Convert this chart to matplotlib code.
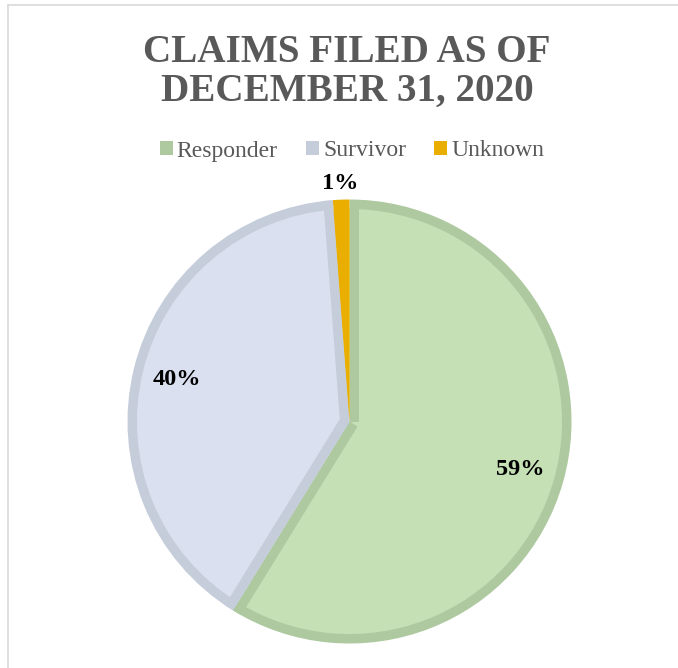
import matplotlib
matplotlib.use("Agg")
import matplotlib.pyplot as plt
from matplotlib.patches import Patch, Wedge, Polygon
from matplotlib.lines import Line2D
import numpy as np

categories = ["Responder", "Survivor", "Unknown"]
values = [58.8, 40.0, 1.2]
labels = ["59%", "40%", "1%"]
fills = ["#C5E0B4", "#DAE0EF", "#E9AE00"]
edges = ["#AEC9A0", "#C5CCDA", "#E9AE00"]

W, H = 678, 668
fig = plt.figure(figsize=(W / 100, H / 100), dpi=100)
fig.patch.set_facecolor("white")

serif = ["Liberation Serif", "DejaVu Serif"]
xc = 347 / W  # horizontal centre of the chart area (frame starts at x=8)

# frame lines (left and top)
fig.add_artist(Line2D([7.5 / W, 7.5 / W], [0, 1 - 4.5 / H], transform=fig.transFigure,
                      color="#D9D9D9", lw=1.2))
fig.add_artist(Line2D([7.5 / W, 1], [1 - 4.5 / H, 1 - 4.5 / H], transform=fig.transFigure,
                      color="#D9D9D9", lw=1.2))

cx, cy, r = 349.5, 421.5, 222
ax = fig.add_axes([(cx - r) / W, (H - cy - r) / H, 2 * r / W, 2 * r / H])
# outer layer: whole slices in border colour
wedges, _ = ax.pie(values, colors=edges, startangle=90, counterclock=False, radius=1,
                   wedgeprops=dict(linewidth=0))
ax.set_xlim(-1, 1)
ax.set_ylim(-1, 1)
ax.set_aspect("equal")
ax.axis("off")

d = 9.5 / r  # border thickness in data units
for w, fc, ec in zip(wedges, fills, edges):
    t1, t2 = w.theta1, w.theta2
    ax.add_patch(Wedge(w.center, 1 - d, t1, t2, facecolor=fc, edgecolor="none"))
    if fc == ec:
        continue
    # radial border bands lying inside the slice
    for ang, sgn in ((t1, 1), (t2, -1)):
        a = np.deg2rad(ang)
        u = np.array([np.cos(a), np.sin(a)])
        n = sgn * np.array([-np.sin(a), np.cos(a)])
        pts = [np.zeros(2), u * 0.999, u * 0.999 + n * d, n * d]
        ax.add_patch(Polygon(pts, closed=True, facecolor=ec, edgecolor="none"))

# data labels
total = sum(values)
start = 90.0
radii = [0.80, 0.80, 1.075]
for v, lab, rr in zip(values, labels, radii):
    frac = v / total
    mid = np.deg2rad(start - frac * 360 / 2)
    start -= frac * 360
    ax.text(rr * np.cos(mid), rr * np.sin(mid), lab, ha="center", va="center",
            fontsize=17.5, fontweight="bold", family=serif, color="black", clip_on=False)

# title
fig.text(xc, 1 - 62 / H, "CLAIMS FILED AS OF", ha="center", va="baseline",
         fontsize=28.2, fontweight="bold", family=serif, color="#595959")
fig.text(xc, 1 - 101 / H, "DECEMBER 31, 2020", ha="center", va="baseline",
         fontsize=28.2, fontweight="bold", family=serif, color="#595959")

# legend
handles = [Patch(facecolor=e, edgecolor="none") for e in edges]
leg = fig.legend(handles, categories, loc="center", bbox_to_anchor=(352 / W, 1 - 151 / H),
                 ncol=3, frameon=False, handlelength=0.55, handleheight=0.55,
                 handletextpad=0.17, columnspacing=1.2,
                 prop={"family": serif, "size": 17})
for t in leg.get_texts():
    t.set_color("#595959")

fig.savefig("out.png", dpi=100, facecolor="white")
